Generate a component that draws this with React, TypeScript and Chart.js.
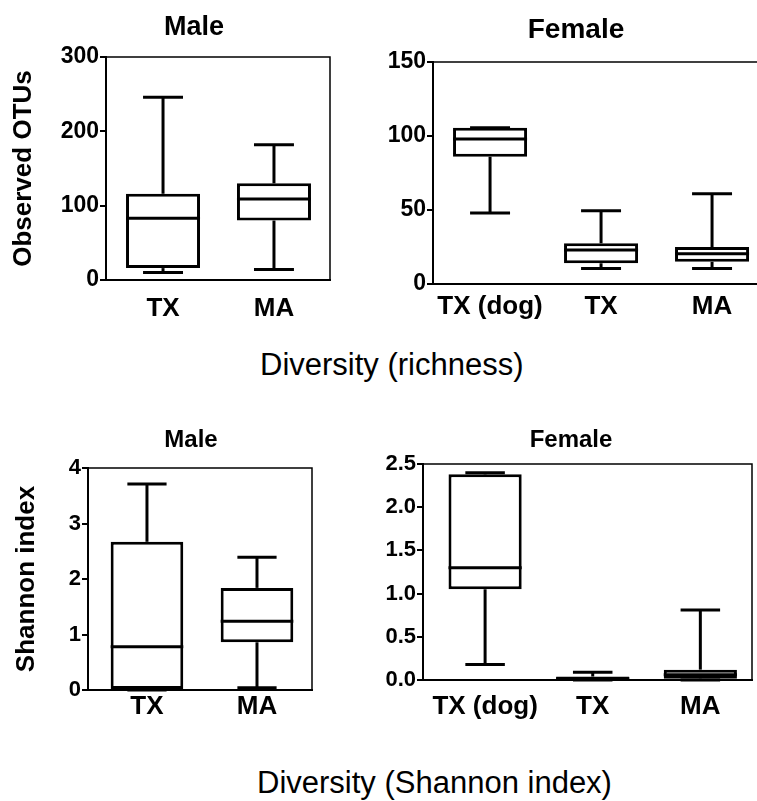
import React, { useEffect, useRef } from 'react';
import { Chart, registerables } from 'chart.js';
Chart.register(...registerables);

const FONT = "'Liberation Sans', Arial, Helvetica, sans-serif";

// ---- Diversity (richness): Observed OTUs ----
const richMaleLabels = ['TX', 'MA'];
const richMaleMin = [10, 14];
const richMaleQ1 = [16, 80];
const richMaleMedian = [83, 109];
const richMaleQ3 = [116, 130];
const richMaleMax = [246, 182];

const richFemaleLabels = ['TX (dog)', 'TX', 'MA'];
const richFemaleMin = [48, 10.5, 10.5];
const richFemaleQ1 = [86, 14, 15];
const richFemaleMedian = [98, 23, 20.5];
const richFemaleQ3 = [105.5, 27.5, 25];
const richFemaleMax = [105.5, 49.5, 61];

// ---- Diversity (Shannon index) ----
const shanMaleLabels = ['TX', 'MA'];
const shanMaleMin = [0, 0.04];
const shanMaleQ1 = [0, 0.86];
const shanMaleMedian = [0.78, 1.24];
const shanMaleQ3 = [2.67, 1.84];
const shanMaleMax = [3.71, 2.39];

const shanFemaleLabels = ['TX (dog)', 'TX', 'MA'];
const shanFemaleMin = [0.18, 0, 0];
const shanFemaleQ1 = [1.05, 0.005, 0.015];
const shanFemaleMedian = [1.3, 0.015, 0.06];
const shanFemaleQ3 = [2.38, 0.04, 0.12];
const shanFemaleMax = [2.4, 0.09, 0.81];

const boxPlugin = {
  id: 'boxWhiskers',
  afterDatasetsDraw(chart: any, _args: any, opts: any) {
    const meta = chart.getDatasetMeta(0);
    const ys = chart.scales.y;
    const ctx = chart.ctx;
    const line = (x1: number, y1: number, x2: number, y2: number) => {
      ctx.beginPath();
      ctx.moveTo(x1, y1);
      ctx.lineTo(x2, y2);
      ctx.stroke();
    };
    ctx.save();
    ctx.strokeStyle = opts.color;
    ctx.lineWidth = opts.lineWidth;
    ctx.lineCap = 'butt';
    meta.data.forEach((bar: any, i: number) => {
      const { x, width } = bar.getProps(['x', 'width'], true);
      const half = width / 2;
      const capHalf = half * opts.capRatio;
      const yMin = ys.getPixelForValue(opts.min[i]);
      const yQ1 = ys.getPixelForValue(opts.q1[i]);
      const yMed = ys.getPixelForValue(opts.median[i]);
      const yQ3 = ys.getPixelForValue(opts.q3[i]);
      const yMax = ys.getPixelForValue(opts.max[i]);
      if (yMax < yQ3) line(x, yQ3, x, yMax);
      line(x - capHalf, yMax, x + capHalf, yMax);
      if (yMin > yQ1) line(x, yQ1, x, yMin);
      line(x - capHalf, yMin, x + capHalf, yMin);
      line(x - half, yMed, x + half, yMed);
    });
    ctx.restore();
  },
};

const framePlugin = {
  id: 'frame',
  afterDraw(chart: any, _args: any, opts: any) {
    const { left, right, top, bottom } = chart.chartArea;
    const ctx = chart.ctx;
    ctx.save();
    ctx.strokeStyle = '#000';
    ctx.lineWidth = opts.lineWidth;
    ctx.beginPath();
    ctx.moveTo(left, top);
    ctx.lineTo(right, top);
    if (opts.right) ctx.lineTo(right, bottom);
    ctx.stroke();
    ctx.restore();
  },
};

type Spec = {
  left: number; top: number; w: number; h: number;
  pad: { top: number; right: number; left: number; bottom: number };
  yWidth: number; xHeight: number;
  xMin: number; xMax: number; yMax: number; step: number;
  decimals: number;
  yTitle?: string; yTitlePad: number;
  xTickPad: number; barPct: number; frameRight: boolean;
  tickFont: number; xFont: number;
  labels: string[]; min: number[]; q1: number[]; median: number[]; q3: number[]; max: number[];
};

function makeConfig(p: Spec): any {
  return {
    type: 'bar',
    data: {
      datasets: [
        {
          data: p.labels.map((_, i) => ({ x: i, y: [p.q1[i], p.q3[i]] })),
          backgroundColor: '#ffffff',
          borderColor: '#000000',
          borderWidth: 3,
          borderSkipped: false,
          barPercentage: p.barPct,
          categoryPercentage: 1,
        },
      ],
    },
    options: {
      responsive: false,
      animation: false,
      devicePixelRatio: 1,
      layout: { padding: p.pad },
      plugins: {
        legend: { display: false },
        tooltip: { enabled: false },
        title: { display: false },
        boxWhiskers: {
          color: '#000', lineWidth: 3, capRatio: 0.54,
          min: p.min, q1: p.q1, median: p.median, q3: p.q3, max: p.max,
        },
        frame: { lineWidth: 1.5, right: p.frameRight },
      },
      scales: {
        x: {
          type: 'linear',
          offset: false,
          min: p.xMin,
          max: p.xMax,
          afterBuildTicks: (s: any) => {
            s.ticks = p.labels.map((_, i) => ({ value: i }));
          },
          afterFit: (s: any) => {
            s.height = p.xHeight;
          },
          grid: { display: true, offset: false, drawOnChartArea: false, drawTicks: false },
          border: { display: true, color: '#000', width: 2 },
          ticks: {
            autoSkip: false,
            maxRotation: 0,
            color: '#000',
            padding: p.xTickPad,
            font: { family: FONT, size: p.xFont, weight: 'bold' },
            callback: (v: any) => p.labels[Math.round(v)] ?? '',
          },
        },
        y: {
          min: 0,
          max: p.yMax,
          afterFit: (s: any) => {
            s.width = p.yWidth;
          },
          grid: { drawOnChartArea: false, drawTicks: true, tickLength: 6, color: '#000', lineWidth: 2 },
          border: { display: true, color: '#000', width: 2 },
          ticks: {
            stepSize: p.step,
            color: '#000',
            padding: 1,
            font: { family: FONT, size: p.tickFont, weight: 'bold' },
            callback: (v: any) => Number(v).toFixed(p.decimals),
          },
          title: {
            display: !!p.yTitle,
            text: p.yTitle || '',
            color: '#000',
            font: { family: FONT, size: 26, weight: 'bold' },
            padding: { top: p.yTitlePad, bottom: 0 },
          },
        },
      },
    },
    plugins: [boxPlugin, framePlugin],
  };
}

const panels: Spec[] = [
  {
    left: 0, top: 40, w: 345, h: 290,
    pad: { top: 17, right: 15, left: 0, bottom: 0 },
    yWidth: 106, xHeight: 50, xMin: -0.514, xMax: 1.505, yMax: 300, step: 100, decimals: 0,
    yTitle: 'Observed OTUs', yTitlePad: 8, xTickPad: 13, barPct: 0.667, frameRight: true,
    tickFont: 23, xFont: 26,
    labels: richMaleLabels, min: richMaleMin, q1: richMaleQ1, median: richMaleMedian, q3: richMaleQ3, max: richMaleMax,
  },
  {
    left: 360, top: 40, w: 397, h: 290,
    pad: { top: 22, right: 0, left: 0, bottom: 0 },
    yWidth: 73, xHeight: 46, xMin: -0.514, xMax: 2.405, yMax: 150, step: 50, decimals: 0,
    yTitlePad: 0, xTickPad: 7, barPct: 0.667, frameRight: false,
    tickFont: 23, xFont: 26,
    labels: richFemaleLabels, min: richFemaleMin, q1: richFemaleQ1, median: richFemaleMedian, q3: richFemaleQ3, max: richFemaleMax,
  },
  {
    left: 0, top: 440, w: 330, h: 290,
    pad: { top: 28, right: 18, left: 0, bottom: 0 },
    yWidth: 88, xHeight: 40, xMin: -0.536, xMax: 1.5, yMax: 4, step: 1, decimals: 0,
    yTitle: 'Shannon index', yTitlePad: 11, xTickPad: 1, barPct: 0.66, frameRight: true,
    tickFont: 22, xFont: 26,
    labels: shanMaleLabels, min: shanMaleMin, q1: shanMaleQ1, median: shanMaleMedian, q3: shanMaleQ3, max: shanMaleMax,
  },
  {
    left: 360, top: 440, w: 397, h: 290,
    pad: { top: 24, right: 5, left: 0, bottom: 0 },
    yWidth: 63, xHeight: 50, xMin: -0.577, xMax: 2.48, yMax: 2.5, step: 0.5, decimals: 1,
    yTitlePad: 0, xTickPad: 11, barPct: 0.68, frameRight: true,
    tickFont: 22, xFont: 26,
    labels: shanFemaleLabels, min: shanFemaleMin, q1: shanFemaleQ1, median: shanFemaleMedian, q3: shanFemaleQ3, max: shanFemaleMax,
  },
];

function Panel({ spec }: { spec: Spec }) {
  const ref = useRef<HTMLCanvasElement | null>(null);
  useEffect(() => {
    if (!ref.current) return;
    const chart = new Chart(ref.current, makeConfig(spec));
    return () => chart.destroy();
  }, [spec]);
  return (
    <canvas
      ref={ref}
      width={spec.w}
      height={spec.h}
      style={{ position: 'absolute', left: spec.left, top: spec.top, width: spec.w, height: spec.h }}
    />
  );
}

function Text({ text, cx, left, top, size, bold }: { text: string; cx?: number; left?: number; top: number; size: number; bold: boolean }) {
  const style: any = {
    position: 'absolute',
    top,
    fontSize: size,
    lineHeight: size + 'px',
    fontWeight: bold ? 'bold' : 'normal',
    fontFamily: FONT,
    color: '#000',
    whiteSpace: 'nowrap',
  };
  if (cx !== undefined) {
    style.left = cx - 150;
    style.width = 300;
    style.textAlign = 'center';
  } else {
    style.left = left;
  }
  return <div style={style}>{text}</div>;
}

export default function App() {
  return (
    <div style={{ position: 'absolute', left: 0, top: 0, width: 757, height: 801, background: '#fff', overflow: 'hidden' }}>
      {panels.map((p, i) => (
        <Panel key={i} spec={p} />
      ))}
      <Text text="Male" cx={194} top={13} size={27} bold />
      <Text text="Female" cx={576} top={15} size={28} bold />
      <Text text="Male" cx={191} top={427} size={24} bold />
      <Text text="Female" cx={571} top={427} size={24} bold />
      <Text text="Diversity (richness)" left={260} top={349} size={31} bold={false} />
      <Text text="Diversity (Shannon index)" left={257} top={767} size={31} bold={false} />
    </div>
  );
}
